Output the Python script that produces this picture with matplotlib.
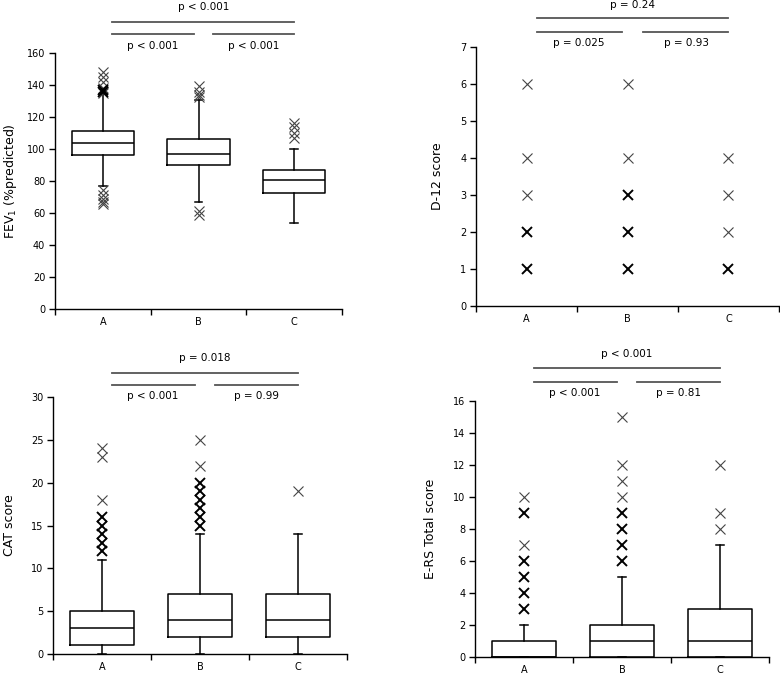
import matplotlib
matplotlib.use('Agg')
import matplotlib.pyplot as plt
from matplotlib.transforms import blended_transform_factory

plt.rcParams['font.family'] = ['DejaVu Sans']

groups = ['A', 'B', 'C']

# FEV1 (%predicted)
fev_q1 = [96.4, 89.8, 72.3]
fev_med = [103.9, 97.0, 80.4]
fev_q3 = [111.3, 106.0, 86.6]
fev_wlo = [76.7, 66.7, 53.6]
fev_whi = [134.5, 130.5, 100.2]
fev_out = [[148, 145, 142, 138, 136.5, 135.5, 134.8, 74.4, 71.3, 69, 67, 65.7],
           [139, 135.7, 133.6, 132.6, 61.5, 58.8],
           [116.4, 113.5, 110.1, 107]]
fev_bold = [[136.5, 135.5], [], []]

# D-12 score
d12_out = [[1, 2, 3, 4, 6], [1, 2, 3, 4, 6], [1, 2, 3, 4]]
d12_bold = [[1, 2], [1, 2, 3], [1]]

# CAT score
cat_q1 = [1, 2, 2]
cat_med = [3, 4, 4]
cat_q3 = [5, 7, 7]
cat_wlo = [0, 0, 0]
cat_whi = [11, 14, 14]
cat_out = [[12, 13, 14, 15, 16, 18, 23, 24],
           [15, 16, 17, 18, 19, 20, 22, 25],
           [19]]
cat_bold = [[12, 13, 14, 15, 16], [15, 16, 17, 18, 19, 20], []]

# E-RS Total score
ers_q1 = [0, 0, 0]
ers_med = [0, 1, 1]
ers_q3 = [1, 2, 3]
ers_wlo = [0, 0, 0]
ers_whi = [2, 5, 7]
ers_out = [[3, 4, 5, 6, 7, 9, 10],
           [6, 7, 8, 9, 10, 11, 12, 15],
           [8, 9, 12]]
ers_bold = [[3, 4, 5, 6, 9], [6, 7, 8, 9], []]

fig = plt.figure(figsize=(7.8, 6.76), dpi=100)

panels = [
    dict(rect=[0.0705, 0.5429, 0.368, 0.379], ylim=(0, 160), yticks=range(0, 161, 20),
         ylabel=r'FEV$_1$ (%predicted)', labx=-0.125,
         box=(fev_q1, fev_med, fev_q3, fev_wlo, fev_whi), out=fev_out, bold=fev_bold,
         pv=('p < 0.001', 'p < 0.001', 'p < 0.001'),
         ytop=1.121, ylow=1.073, ttop=1.178, tlow=1.026),
    dict(rect=[0.6103, 0.5473, 0.3884, 0.3837], ylim=(0, 7), yticks=range(0, 8),
         ylabel='D-12 score', labx=-0.105,
         box=None, out=d12_out, bold=d12_bold,
         pv=('p = 0.24', 'p = 0.025', 'p = 0.93'),
         ytop=1.111, ylow=1.057, ttop=1.161, tlow=1.015),
    dict(rect=[0.068, 0.0325, 0.3769, 0.3802], ylim=(0, 30), yticks=range(0, 31, 5),
         ylabel='CAT score', labx=-0.125,
         box=(cat_q1, cat_med, cat_q3, cat_wlo, cat_whi), out=cat_out, bold=cat_bold,
         pv=('p = 0.018', 'p < 0.001', 'p = 0.99'),
         ytop=1.093, ylow=1.047, ttop=1.152, tlow=1.004),
    dict(rect=[0.609, 0.0281, 0.3769, 0.3787], ylim=(0, 16), yticks=range(0, 17, 2),
         ylabel='E-RS Total score', labx=-0.128,
         box=(ers_q1, ers_med, ers_q3, ers_wlo, ers_whi), out=ers_out, bold=ers_bold,
         pv=('p < 0.001', 'p < 0.001', 'p = 0.81'),
         ytop=1.129, ylow=1.074, ttop=1.184, tlow=1.031),
]

pos = [0.5, 1.5, 2.5]
for p in panels:
    ax = fig.add_axes(p['rect'])
    ax.set_xlim(0, 3)
    ax.set_ylim(*p['ylim'])
    for s in ['top', 'right']:
        ax.spines[s].set_visible(False)
    for s in ['left', 'bottom']:
        ax.spines[s].set_linewidth(1.0)
    ax.set_yticks(list(p['yticks']))
    ax.set_xticks([0, 1, 2, 3])
    ax.set_xticklabels([])
    ax.set_xticks(pos, minor=True)
    ax.set_xticklabels(groups, minor=True)
    ax.tick_params(axis='x', which='minor', length=0, labelsize=7, pad=6)
    ax.tick_params(axis='x', which='major', length=4, width=1, direction='out')
    ax.tick_params(axis='y', length=4, width=1, direction='out', labelsize=7, pad=3)
    ax.set_ylabel(p['ylabel'], fontsize=9)
    ax.yaxis.set_label_coords(p['labx'], 0.5)

    if p['box'] is not None:
        q1, med, q3, wlo, whi = p['box']
        stats = [dict(q1=q1[i], med=med[i], q3=q3[i], whislo=wlo[i], whishi=whi[i],
                      fliers=[], label=groups[i]) for i in range(3)]
        ax.bxp(stats, positions=pos, widths=0.65, capwidths=0.08, showfliers=False,
               manage_ticks=False,
               boxprops=dict(color='black', linewidth=1.1),
               medianprops=dict(color='black', linewidth=1.1),
               whiskerprops=dict(color='black', linewidth=1.1),
               capprops=dict(color='black', linewidth=1.1))

    for i in range(3):
        norm = [v for v in p['out'][i] if v not in p['bold'][i]]
        bold = p['bold'][i]
        ax.plot([pos[i]] * len(norm), norm, linestyle='none', marker='x', ms=6.5,
                mew=0.8, color='#444444', clip_on=False)
        ax.plot([pos[i]] * len(bold), bold, linestyle='none', marker='x', ms=6.5,
                mew=1.4, color='black', clip_on=False)

    tr = blended_transform_factory(ax.transData, ax.transAxes)
    lc = '#555555'
    ax.plot([0.6, 2.5], [p['ytop']] * 2, color=lc, lw=1.3, transform=tr, clip_on=False)
    ax.plot([0.6, 1.45], [p['ylow']] * 2, color=lc, lw=1.3, transform=tr, clip_on=False)
    ax.plot([1.65, 2.5], [p['ylow']] * 2, color=lc, lw=1.3, transform=tr, clip_on=False)
    ax.text(1.55, p['ttop'], p['pv'][0], transform=tr, ha='center', va='center', fontsize=7.5)
    ax.text(1.02, p['tlow'], p['pv'][1], transform=tr, ha='center', va='center', fontsize=7.5)
    ax.text(2.08, p['tlow'], p['pv'][2], transform=tr, ha='center', va='center', fontsize=7.5)

fig.savefig('out.png', dpi=100)
